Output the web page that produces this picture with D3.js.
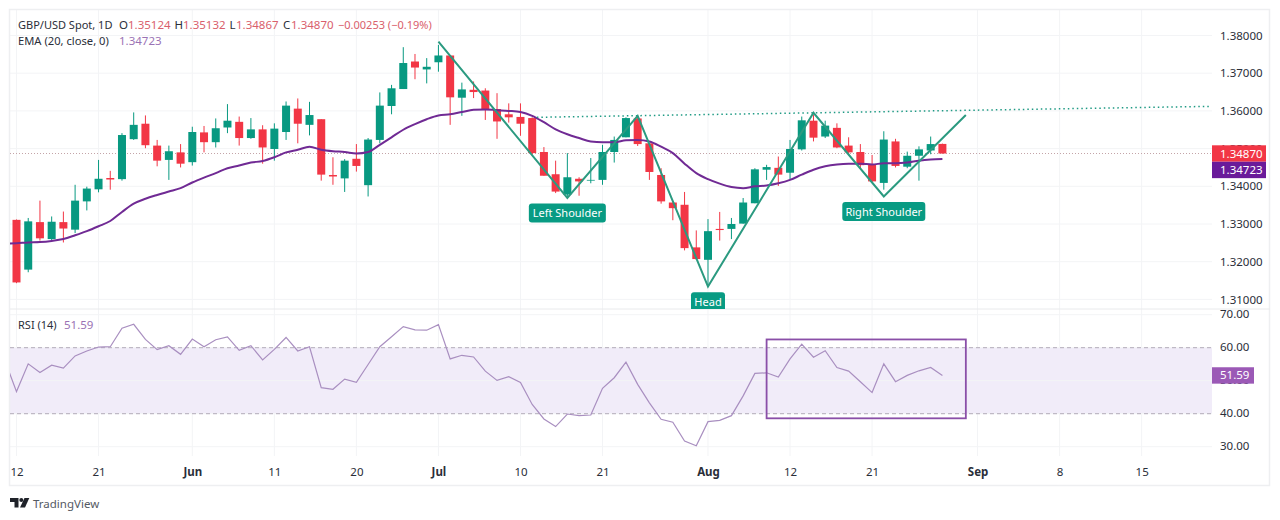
<!DOCTYPE html>
<html>
<head>
<meta charset="utf-8">
<style>
    html, body { margin: 0; padding: 0; background: #fff; }
    svg { display: block; }
    text { font-family: "Noto Sans", "Open Sans", sans-serif; }
    .domain { display: none; }
</style>
<script src="https://cdn.jsdelivr.net/npm/d3@7"></script>
</head>
<body>
<div id="chart"></div>
<script>
'use strict';

// daily candles, bar 0 = 12 May, bar 79 = last session
var opens = [
    1.3311, 1.3179, 1.3305, 1.3260, 1.3305, 1.3285, 1.3360, 1.3392, 1.3422, 1.3419,
    1.3525, 1.3566, 1.3508, 1.3470, 1.3490, 1.3464, 1.3543, 1.3517, 1.3556, 1.3571,
    1.3528, 1.3551, 1.3499, 1.3544, 1.3606, 1.3563, 1.3578, 1.3430, 1.3421, 1.3473,
    1.3403, 1.3523, 1.3613, 1.3658, 1.3731, 1.3710, 1.3729, 1.3747, 1.3635, 1.3656,
    1.3654, 1.3605, 1.3591, 1.3584, 1.3581, 1.3491, 1.3432, 1.3378, 1.3420, 1.3415,
    1.3417, 1.3491, 1.3530, 1.3580, 1.3514, 1.3430, 1.3357, 1.3351, 1.3238, 1.3205,
    1.3287, 1.3287, 1.3301, 1.3355, 1.3444, 1.3449, 1.3436, 1.3498, 1.3574, 1.3532,
    1.3555, 1.3508, 1.3491, 1.3458, 1.3409, 1.3519, 1.3452, 1.3481, 1.3495, 1.35124
];
var highs = [
    1.3312, 1.3316, 1.3362, 1.3320, 1.3333, 1.3404, 1.3399, 1.3470, 1.3441, 1.3541,
    1.3596, 1.3588, 1.3523, 1.3508, 1.3512, 1.3558, 1.3560, 1.3580, 1.3618, 1.3585,
    1.3581, 1.3562, 1.3567, 1.3625, 1.3633, 1.3624, 1.3578, 1.3477, 1.3472, 1.3512,
    1.3528, 1.3649, 1.3669, 1.3769, 1.3751, 1.3740, 1.3775, 1.3748, 1.3675, 1.3678,
    1.3660, 1.3647, 1.3620, 1.3620, 1.3583, 1.3504, 1.3468, 1.3488, 1.3424, 1.3475,
    1.3510, 1.3532, 1.3583, 1.3587, 1.3514, 1.3448, 1.3357, 1.3385, 1.3283, 1.3313,
    1.3332, 1.3316, 1.3369, 1.3448, 1.3457, 1.3479, 1.3523, 1.3585, 1.3589, 1.3574,
    1.3567, 1.3530, 1.3512, 1.3483, 1.3546, 1.3526, 1.3492, 1.3506, 1.3532, 1.35132
];
var lows = [
    1.3143, 1.3172, 1.3256, 1.3256, 1.3251, 1.3276, 1.3336, 1.3384, 1.3391, 1.3415,
    1.3523, 1.3501, 1.3453, 1.3417, 1.3450, 1.3455, 1.3490, 1.3503, 1.3541, 1.3508,
    1.3526, 1.3460, 1.3468, 1.3523, 1.3514, 1.3535, 1.3415, 1.3404, 1.3385, 1.3439,
    1.3373, 1.3514, 1.3591, 1.3658, 1.3684, 1.3673, 1.3704, 1.3563, 1.3587, 1.3634,
    1.3576, 1.3526, 1.3569, 1.3534, 1.3484, 1.3428, 1.3382, 1.3369, 1.3375, 1.3408,
    1.3404, 1.3463, 1.3530, 1.3507, 1.3417, 1.3354, 1.3310, 1.3230, 1.3205, 1.3135,
    1.3256, 1.3260, 1.3301, 1.3355, 1.3417, 1.3401, 1.3419, 1.3495, 1.3519, 1.3528,
    1.3501, 1.3483, 1.3448, 1.3410, 1.3391, 1.3450, 1.3448, 1.3415, 1.3485, 1.34867
];
var closes = [
    1.3145, 1.3307, 1.3262, 1.3306, 1.3288, 1.3362, 1.3394, 1.3420, 1.3418, 1.3536,
    1.3563, 1.3509, 1.3468, 1.3493, 1.3460, 1.3544, 1.3517, 1.3554, 1.3574, 1.3528,
    1.3551, 1.3503, 1.3553, 1.3614, 1.3566, 1.3589, 1.3431, 1.3426, 1.3468, 1.3454,
    1.3524, 1.3614, 1.3660, 1.3727, 1.3715, 1.3717, 1.3747, 1.3636, 1.3657, 1.3650,
    1.3604, 1.3572, 1.3583, 1.3566, 1.3488, 1.3428, 1.3386, 1.3424, 1.3413, 1.3417,
    1.3491, 1.3523, 1.3581, 1.3512, 1.3438, 1.3360, 1.3342, 1.3236, 1.3207, 1.3281,
    1.3284, 1.3300, 1.3357, 1.3445, 1.3451, 1.3431, 1.3499, 1.3575, 1.3529, 1.3561,
    1.3503, 1.3490, 1.3456, 1.3413, 1.3524, 1.3454, 1.3481, 1.3498, 1.3512, 1.34870
];

// ema and rsi start one bar before the first visible candle
var emaValues = [
    1.3248, 1.3249, 1.3251, 1.3252, 1.3255, 1.3260, 1.3270, 1.3281, 1.3294, 1.3308, 1.3332,
    1.3354, 1.3367, 1.3377, 1.3386, 1.3395, 1.3410, 1.3423, 1.3435, 1.3448, 1.3455,
    1.3463, 1.3467, 1.3477, 1.3490, 1.3497, 1.3505, 1.3497, 1.3493, 1.3491, 1.3487,
    1.3491, 1.3510, 1.3530, 1.3550, 1.3565, 1.3578, 1.3588, 1.3591, 1.3597, 1.3603,
    1.3604, 1.3602, 1.3600, 1.3597, 1.3587, 1.3570, 1.3551, 1.3538, 1.3528, 1.3519,
    1.3517, 1.3517, 1.3522, 1.3523, 1.3519, 1.3505, 1.3488, 1.3460, 1.3435, 1.3419,
    1.3407, 1.3398, 1.3395, 1.3400, 1.3402, 1.3408, 1.3417, 1.3431, 1.3444, 1.3453,
    1.3458, 1.3460, 1.3460, 1.3458, 1.3461, 1.3461, 1.3463, 1.3468, 1.3471, 1.34723
];
var rsiValues = [
    56.2, 46.7, 55.1, 52.5, 54.7, 53.8, 57.5, 59.0, 60.2, 60.3, 65.9,
    67.1, 62.5, 59.4, 60.6, 58.0, 62.6, 60.3, 62.4, 63.3, 59.2,
    60.6, 56.3, 59.5, 63.1, 59.0, 60.3, 47.9, 47.4, 50.5, 49.5,
    54.9, 60.3, 63.3, 66.4, 65.4, 65.3, 67.0, 56.6, 57.7, 57.2,
    52.9, 50.1, 51.2, 49.5, 42.8, 38.4, 36.1, 39.9, 39.4, 39.6,
    47.7, 50.9, 55.6, 48.9, 43.3, 38.3, 37.4, 31.7, 30.3, 37.6,
    38.0, 39.4, 45.4, 52.2, 52.4, 51.1, 56.6, 61.1, 57.1, 59.1,
    54.0, 52.9, 49.7, 46.4, 55.1, 49.7, 51.6, 53.0, 54.0, 51.59
];

// time axis
var timeBars = [0, 7, 15, 22, 29, 36, 43, 50, 59, 66, 73, 82, 89, 96];
var timeLabels = ['12', '21', 'Jun', '11', '20', 'Jul', '10', '21', 'Aug', '12', '21', 'Sep', '8', '15'];
var monthLabels = ['Jun', 'Jul', 'Aug', 'Sep'];

var priceTicks = [1.31, 1.32, 1.33, 1.34, 1.35, 1.36, 1.37, 1.38];
var rsiTicks = [30, 40, 50, 60, 70];

// hand drawn annotations, [bar, value]
var patternBars = [36, 47, 53, 59, 68, 74, 81];
var patternPrices = [1.3784, 1.3369, 1.3587, 1.3134, 1.3595, 1.3373, 1.3589];
var necklineBars = [44.4, 101.8];
var necklinePrices = [1.3583, 1.3612];
var rsiBoxBars = [64, 81];
var rsiBoxValues = [38.6, 62.5];
var patternLabels = ['Left Shoulder', 'Head', 'Right Shoulder'];
var patternLabelBars = [47, 59, 74];
var patternLabelPrices = [1.3329, 1.3094, 1.3333];
var patternLabelWidths = [77, 34, 83];

var lastPrice = 1.34870, lastEma = 1.34723, lastRsi = 51.59;

var GREEN = '#089981', RED = '#f23645', EMA_COLOR = '#702a94', RSI_COLOR = '#a98fc0',
    TEAL = '#1f9a84', TEXT = '#2a2e39', GRID = '#f3f4f6';

var width = 1280, height = 520,
    left = 10, right = 1212, frameRight = 1270,
    priceTop = 10, paneBreak = 309, timeTop = 456, frameBottom = 486;

var x = d3.scaleLinear().domain([0, 79]).range([16.5, 942.4]);
var yPrice = d3.scaleLinear().domain([1.31, 1.38]).range([299.4, 35.5]);
var yRsi = d3.scaleLinear().domain([30, 70]).range([446.7, 314.7]);

var svg = d3.select('#chart').append('svg')
    .attr('width', width)
    .attr('height', height);

var defs = svg.append('defs');
defs.append('clipPath').attr('id', 'pricePane').append('rect')
    .attr('x', left).attr('y', priceTop).attr('width', right - left).attr('height', paneBreak - priceTop);
defs.append('clipPath').attr('id', 'rsiPane').append('rect')
    .attr('x', left).attr('y', paneBreak).attr('width', right - left).attr('height', timeTop - paneBreak);

// grid
var grid = svg.append('g').attr('id', 'grid-layer');

grid.selectAll('.vgrid')
    .data(timeBars)
    .enter().append('line')
    .attr('x1', function(d) { return x(d); })
    .attr('x2', function(d) { return x(d); })
    .attr('y1', priceTop)
    .attr('y2', timeTop)
    .attr('stroke', GRID);

grid.selectAll('.pgrid')
    .data(priceTicks)
    .enter().append('line')
    .attr('x1', left)
    .attr('x2', right)
    .attr('y1', function(d) { return yPrice(d); })
    .attr('y2', function(d) { return yPrice(d); })
    .attr('stroke', GRID);

// rsi band sits under the rsi grid lines
grid.append('rect')
    .attr('x', left)
    .attr('width', right - left)
    .attr('y', yRsi(60))
    .attr('height', yRsi(40) - yRsi(60))
    .attr('fill', '#f1ecf9');

grid.selectAll('.rgrid')
    .data(rsiTicks)
    .enter().append('line')
    .attr('x1', left)
    .attr('x2', right)
    .attr('y1', function(d) { return yRsi(d); })
    .attr('y2', function(d) { return yRsi(d); })
    .attr('stroke', GRID);

// frame
svg.append('rect')
    .attr('x', left - 0.5)
    .attr('y', priceTop - 0.5)
    .attr('width', frameRight - left)
    .attr('height', frameBottom - priceTop)
    .attr('fill', 'none')
    .attr('stroke', '#eeeff1')
    .attr('stroke-width', 1.5);
svg.append('line')
    .attr('x1', left).attr('x2', frameRight)
    .attr('y1', paneBreak).attr('y2', paneBreak)
    .attr('stroke', '#e9eaec');

// axes
var priceAxis = d3.axisRight(yPrice)
    .tickValues(priceTicks)
    .tickFormat(d3.format('.5f'))
    .tickSize(0)
    .tickPadding(0);
svg.append('g')
    .attr('transform', 'translate(1220,0)')
    .call(priceAxis)
    .selectAll('text')
    .attr('font-size', 11.5)
    .attr('fill', TEXT);

var rsiAxis = d3.axisRight(yRsi)
    .tickValues(rsiTicks)
    .tickFormat(d3.format('.2f'))
    .tickSize(0)
    .tickPadding(0);
svg.append('g')
    .attr('transform', 'translate(1220,-0.5)')
    .call(rsiAxis)
    .selectAll('text')
    .attr('font-size', 11.5)
    .attr('fill', TEXT);

var timeAxis = d3.axisBottom(x)
    .tickValues(timeBars)
    .tickFormat(function(d) { return timeLabels[timeBars.indexOf(d)]; })
    .tickSize(0)
    .tickPadding(0);
svg.append('g')
    .attr('transform', 'translate(0,467.5)')
    .call(timeAxis)
    .selectAll('text')
    .attr('font-size', 11.5)
    .attr('fill', TEXT)
    .attr('font-weight', function(d) {
        return monthLabels.indexOf(timeLabels[timeBars.indexOf(d)]) >= 0 ? 700 : 400;
    });

// price pane
var pricePane = svg.append('g').attr('clip-path', 'url(#pricePane)');

pricePane.append('line')
    .attr('x1', left).attr('x2', right)
    .attr('y1', yPrice(lastPrice)).attr('y2', yPrice(lastPrice))
    .attr('stroke', '#c4a4a8')
    .attr('stroke-dasharray', '1,2');

var candles = pricePane.selectAll('.candle')
    .data(closes)
    .enter().append('g')
    .attr('class', 'candle')
    .attr('fill', function(d, i) { return d >= opens[i] ? GREEN : RED; })
    .attr('stroke', function(d, i) { return d >= opens[i] ? GREEN : RED; });

candles.append('line')
    .attr('x1', function(d, i) { return x(i); })
    .attr('x2', function(d, i) { return x(i); })
    .attr('y1', function(d, i) { return yPrice(highs[i]); })
    .attr('y2', function(d, i) { return yPrice(lows[i]); })
    .attr('stroke-width', 1);

candles.append('rect')
    .attr('x', function(d, i) { return x(i) - 4; })
    .attr('width', 8)
    .attr('y', function(d, i) { return yPrice(Math.max(d, opens[i])); })
    .attr('height', function(d, i) { return Math.max(0.5, Math.abs(yPrice(d) - yPrice(opens[i]))); })
    .attr('stroke', 'none');

var emaLine = d3.line()
    .x(function(d, i) { return x(i - 1); })
    .y(function(d) { return yPrice(d); })
    .curve(d3.curveMonotoneX);

pricePane.append('path')
    .attr('d', emaLine(emaValues))
    .attr('fill', 'none')
    .attr('stroke', EMA_COLOR)
    .attr('stroke-width', 2);

pricePane.append('line')
    .attr('x1', x(necklineBars[0])).attr('x2', x(necklineBars[1]))
    .attr('y1', yPrice(necklinePrices[0])).attr('y2', yPrice(necklinePrices[1]))
    .attr('stroke', TEAL)
    .attr('stroke-width', 1.5)
    .attr('stroke-dasharray', '1.5,3');

pricePane.append('path')
    .attr('d', d3.line()
        .x(function(d) { return x(d); })
        .y(function(d, i) { return yPrice(patternPrices[i]); })(patternBars))
    .attr('fill', 'none')
    .attr('stroke', '#2b9a80')
    .attr('stroke-width', 2)
    .attr('stroke-linejoin', 'miter');

var tags = pricePane.selectAll('.tag')
    .data(patternLabels)
    .enter().append('g')
    .attr('transform', function(d, i) {
        return 'translate(' + x(patternLabelBars[i]) + ',' + yPrice(patternLabelPrices[i]) + ')';
    });
tags.append('rect')
    .attr('x', function(d, i) { return -patternLabelWidths[i] / 2; })
    .attr('y', -9.5)
    .attr('width', function(d, i) { return patternLabelWidths[i]; })
    .attr('height', 19)
    .attr('rx', 3)
    .attr('fill', '#089b83');
tags.append('text')
    .attr('text-anchor', 'middle')
    .attr('y', 4)
    .attr('font-size', 11)
    .attr('fill', '#fff')
    .text(function(d) { return d; });

// rsi pane
var rsiPane = svg.append('g').attr('clip-path', 'url(#rsiPane)');

[60, 40].forEach(function(level) {
    rsiPane.append('line')
        .attr('x1', left).attr('x2', right)
        .attr('y1', yRsi(level)).attr('y2', yRsi(level))
        .attr('stroke', '#b3acb9')
        .attr('stroke-dasharray', '4,3');
});

var rsiLine = d3.line()
    .x(function(d, i) { return x(i - 1); })
    .y(function(d) { return yRsi(d); });

rsiPane.append('path')
    .attr('d', rsiLine(rsiValues))
    .attr('fill', 'none')
    .attr('stroke', RSI_COLOR)
    .attr('stroke-width', 1.2);

rsiPane.append('rect')
    .attr('x', x(rsiBoxBars[0]))
    .attr('y', yRsi(rsiBoxValues[1]))
    .attr('width', x(rsiBoxBars[1]) - x(rsiBoxBars[0]))
    .attr('height', yRsi(rsiBoxValues[0]) - yRsi(rsiBoxValues[1]))
    .attr('fill', 'none')
    .attr('stroke', '#8a4fa8')
    .attr('stroke-width', 1.8);

// last value tags on the axis, the ema one is pushed below the price one
function axisTag(value, y, w, fill) {
    svg.append('rect')
        .attr('x', right).attr('y', y - 8.2)
        .attr('width', w).attr('height', 16.4)
        .attr('fill', fill);
    svg.append('text')
        .attr('x', 1220).attr('y', y + 4)
        .attr('font-size', 11.5)
        .attr('fill', '#fff')
        .text(value);
}
axisTag(d3.format('.5f')(lastPrice), yPrice(lastPrice), 54, RED);
axisTag(d3.format('.5f')(lastEma), yPrice(lastEma) + 10.9, 54, '#6a1b9a');
axisTag(d3.format('.2f')(lastRsi), yRsi(lastRsi), 42, '#9b59b6');

// legend
var legend = svg.append('g').attr('font-size', 11.5);

function legendText(str, px, py, fill, size) {
    legend.append('text')
        .attr('x', px).attr('y', py)
        .attr('fill', fill)
        .attr('font-size', size || 11.5)
        .text(str);
}
var LEG_RED = '#d9606c', LEG_PURPLE = '#9a72b4';
legendText('GBP/USD Spot, 1D', 18, 29, TEXT, 11);
legendText('O', 119, 29, TEXT);
legendText(d3.format('.5f')(opens[79]), 128, 29, LEG_RED);
legendText('H', 174.5, 29, TEXT);
legendText(d3.format('.5f')(highs[79]), 183, 29, LEG_RED);
legendText('L', 229.5, 29, TEXT);
legendText(d3.format('.5f')(lows[79]), 236, 29, LEG_RED);
legendText('C', 283, 29, TEXT);
legendText(d3.format('.5f')(closes[79]), 291, 29, LEG_RED);
legendText('\u22120.00253 (\u22120.19%)', 338, 29, LEG_RED, 11);
legendText('EMA (20, close, 0)', 18, 45, TEXT, 11.2);
legendText(d3.format('.5f')(lastEma), 119, 45, LEG_PURPLE);
legendText('RSI (14)', 18, 329, TEXT, 11);
legendText(d3.format('.2f')(lastRsi), 64, 329, LEG_PURPLE);

// tradingview logo
var logo = svg.append('g').attr('fill', '#1f2229');
logo.append('path').attr('d', 'M10 498H18.5V507.5H14.5V502H10Z');
logo.append('circle').attr('cx', 21.3).attr('cy', 500).attr('r', 2);
logo.append('path').attr('d', 'M24.5 498H29.3L25 507.5H20Z');
svg.append('text')
    .attr('x', 33).attr('y', 508)
    .attr('font-size', 11.5)
    .attr('fill', '#555a63')
    .text('TradingView');
</script>
</body>
</html>
